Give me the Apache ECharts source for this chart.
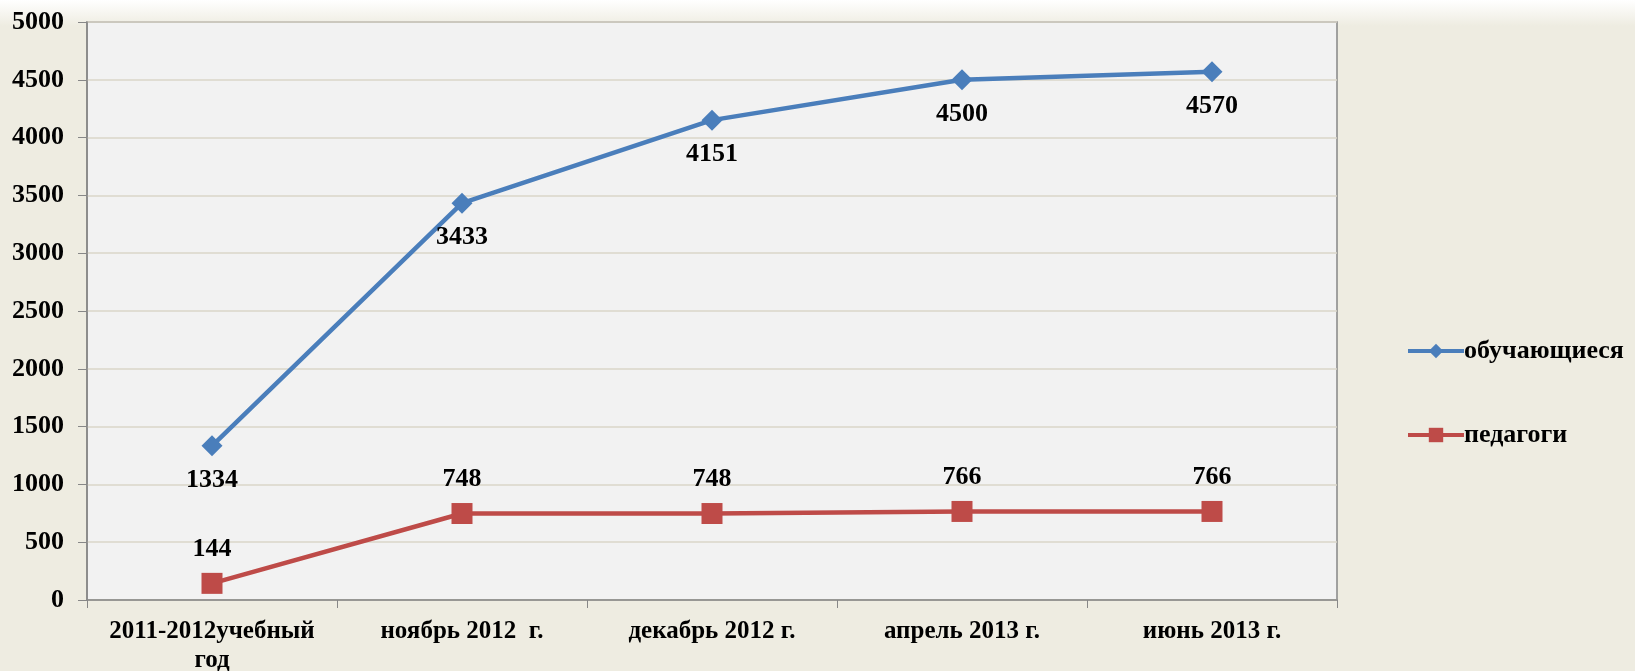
<!DOCTYPE html>
<html>
<head>
<meta charset="utf-8">
<script src="https://cdn.jsdelivr.net/npm/echarts@6/dist/echarts.min.js"></script>
<style>
html,body{margin:0;padding:0;width:1635px;height:671px;overflow:hidden;}
body{background:linear-gradient(to bottom,#ffffff 0px,#EEECE1 26px,#EEECE1 100%);}
#chart{width:1635px;height:671px;}
</style>
</head>
<body>
<div id="chart"></div>
<script>
const categories = ['2011-2012учебный\nгод', 'ноябрь 2012  г.', 'декабрь 2012 г.', 'апрель 2013 г.', 'июнь 2013 г.'];
const students = [1334, 3433, 4151, 4500, 4570];
const teachers = [144, 748, 748, 766, 766];
const seriesNames = ['обучающиеся', 'педагоги'];

const font = '"Liberation Serif", "Times New Roman", serif';
const chart = echarts.init(document.getElementById('chart'), null, {renderer: 'canvas'});
chart.setOption({
  backgroundColor: 'transparent',
  animation: false,
  grid: {
    left: 87, right: 298, top: 22, bottom: 71,
    outerBoundsMode: 'none', containLabel: false,
    show: true, backgroundColor: '#F2F2F2', borderColor: '#878787', borderWidth: 1.5
  },
  legend: {
    orient: 'vertical',
    left: 1401, top: 333,
    itemGap: 58,
    itemWidth: 56, itemHeight: 18,
    data: seriesNames,
    lineStyle: {width: 4},
    textStyle: {fontFamily: font, fontWeight: 'bold', fontSize: 26, color: '#000', padding: [0,0,0,-5]}
  },
  xAxis: {
    type: 'category',
    data: categories,
    boundaryGap: true,
    axisLine: {lineStyle: {color: '#878787', width: 1.5}},
    axisTick: {show: true, length: 8, lineStyle: {color: '#878787'}},
    axisLabel: {fontFamily: font, fontWeight: 'bold', fontSize: 25, color: '#000', margin: 17, lineHeight: 29, interval: 0}
  },
  yAxis: {
    type: 'value',
    min: 0, max: 5000, interval: 500,
    axisLine: {show: true, lineStyle: {color: '#878787', width: 1.5}},
    axisTick: {show: true, length: 9, lineStyle: {color: '#878787'}},
    splitLine: {lineStyle: {color: '#DAD6C9', width: 1.5}},
    axisLabel: {fontFamily: font, fontWeight: 'bold', fontSize: 26, color: '#000', margin: 23, formatter: v => String(v)}
  },
  series: [
    {
      name: seriesNames[0], type: 'line', data: students,
      symbol: 'diamond', symbolSize: 21,
      lineStyle: {color: '#4A7EBB', width: 4.5},
      itemStyle: {color: '#4A7EBB'},
      label: {show: true, position: 'bottom', distance: 11, fontFamily: font, fontWeight: 'bold', fontSize: 26, color: '#000'}
    },
    {
      name: seriesNames[1], type: 'line', data: teachers,
      symbol: 'rect', symbolSize: 21,
      lineStyle: {color: '#BE4B48', width: 4.5},
      itemStyle: {color: '#BE4B48'},
      label: {show: true, position: 'top', distance: 11, fontFamily: font, fontWeight: 'bold', fontSize: 26, color: '#000'}
    }
  ]
});
</script>
</body>
</html>
